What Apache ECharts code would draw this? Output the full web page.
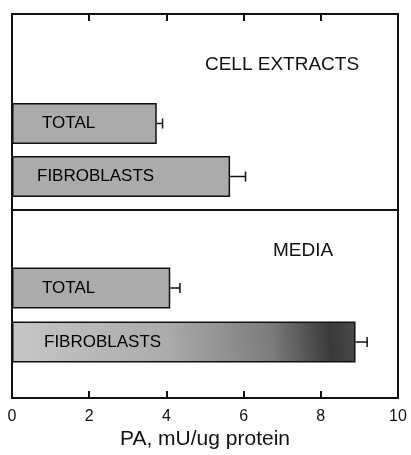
<!DOCTYPE html>
<html><head><meta charset="utf-8">
<script src="https://cdn.jsdelivr.net/npm/echarts@6/dist/echarts.min.js"></script>
<style>html,body{margin:0;padding:0;background:#fff}#c{width:411px;height:455px}</style>
</head><body><div id="c"></div>
<script>
// ---- data ----
const categories = ["TOTAL", "FIBROBLASTS"];
const cellExtractValues = [3.75, 5.65];
const cellExtractErrors = [0.15, 0.4];
const mediaValues = [4.1, 8.9];
const mediaErrors = [0.25, 0.3];
const xMin = 0, xMax = 10, xStep = 2;
const panelTitles = ["CELL EXTRACTS", "MEDIA"];
const xAxisTitle = "PA, mU/ug protein";

// ---- styles ----
const FONT = "Liberation Sans, Arial, sans-serif";
const L = 12, R = 13;
const barFill = '#ababab';
const labelOffsets = [[[25, 0], [20, 0]], [[25, 0], [27, 0]]];

const chart = echarts.init(document.getElementById('c'), null, {renderer: 'canvas'});

function hiddenX(gi) {
  return {type: 'value', gridIndex: gi, min: xMin, max: xMax, interval: xStep, show: false};
}
function catY(gi) {
  return {type: 'category', gridIndex: gi, data: categories, inverse: true, show: false};
}
function barSeries(axisIdx, vals, panel) {
  return {
    type: 'bar', xAxisIndex: axisIdx, yAxisIndex: axisIdx, barWidth: 41,
    data: vals.map((v, i) => ({
      value: v,
      itemStyle: (panel === 1 && i === 1) ? {
        color: new echarts.graphic.LinearGradient(0, 1, 1, 0, [
          {offset: 0, color: '#c6c6c6'}, {offset: 0.45, color: '#ababab'},
          {offset: 0.75, color: '#7c7c7c'}, {offset: 0.92, color: '#3a3a3a'},
          {offset: 1, color: '#4a4a4a'}])
      } : undefined,
      label: {offset: labelOffsets[panel][i]}
    })),
    itemStyle: {color: barFill, borderColor: '#111', borderWidth: 1.5},
    label: {show: true, position: 'insideLeft', formatter: p => p.name,
      color: '#000', fontFamily: FONT, fontSize: 17},
    silent: true
  };
}
function errSeries(axisIdx, vals, errs) {
  return {
    type: 'custom', xAxisIndex: axisIdx, yAxisIndex: axisIdx, silent: true,
    data: vals.map((v, i) => [v, i, errs[i]]),
    encode: {x: 0, y: 1},
    renderItem: (params, api) => {
      const v = api.value(0), i = api.value(1), e = api.value(2);
      const a = api.coord([v, i]);
      const b = api.coord([v + e, i]);
      const st = {stroke: '#111', lineWidth: 1.5};
      return {type: 'group', children: [
        {type: 'line', shape: {x1: a[0], y1: a[1], x2: b[0], y2: b[1]}, style: st},
        {type: 'line', shape: {x1: b[0], y1: b[1] - 5, x2: b[0], y2: b[1] + 5}, style: st}
      ]};
    }
  };
}

const axisLineStyle = {color: '#111', width: 2};
chart.setOption({
  animation: false,
  backgroundColor: '#fff',
  grid: [
    {left: L, right: R, top: 14, bottom: 55},
    {left: L, right: R, top: 97, height: 106},
    {left: L, right: R, top: 261, height: 108}
  ],
  xAxis: [
    {type: 'value', gridIndex: 0, min: xMin, max: xMax, interval: xStep, position: 'bottom',
      axisLine: {show: true, onZero: false, lineStyle: axisLineStyle},
      axisTick: {show: true, inside: true, length: 7, lineStyle: {color: '#111', width: 2}},
      splitLine: {show: false},
      axisLabel: {color: '#111', fontFamily: FONT, fontSize: 16, margin: 10,
        showMinLabel: true, showMaxLabel: true},
      name: xAxisTitle, nameLocation: 'middle', nameGap: 30,
      nameTextStyle: {color: '#111', fontFamily: FONT, fontSize: 21}},
    {type: 'value', gridIndex: 0, min: xMin, max: xMax, interval: xStep, position: 'top',
      axisLine: {show: true, onZero: false, lineStyle: axisLineStyle},
      axisTick: {show: true, inside: true, length: 7, lineStyle: {color: '#111', width: 2}},
      splitLine: {show: false}, axisLabel: {show: false}},
    hiddenX(1), hiddenX(2)
  ],
  yAxis: [
    {type: 'value', gridIndex: 0, min: 0, max: 1, position: 'left',
      axisLine: {show: true, onZero: false, lineStyle: axisLineStyle}, axisTick: {show: false},
      axisLabel: {show: false}, splitLine: {show: false}},
    {type: 'value', gridIndex: 0, min: 0, max: 1, position: 'right',
      axisLine: {show: true, onZero: false, lineStyle: axisLineStyle}, axisTick: {show: false},
      axisLabel: {show: false}, splitLine: {show: false}},
    catY(1), catY(2)
  ],
  series: [
    barSeries(2, cellExtractValues, 0),
    errSeries(2, cellExtractValues, cellExtractErrors),
    barSeries(3, mediaValues, 1),
    errSeries(3, mediaValues, mediaErrors)
  ],
  graphic: [
    {type: 'line', shape: {x1: L, y1: 210, x2: 411 - R, y2: 210},
      style: {stroke: '#111', lineWidth: 2}},
    {type: 'text', x: 282, y: 65, style: {text: panelTitles[0], fill: '#111',
      font: '19px ' + FONT, align: 'center', verticalAlign: 'middle'}},
    {type: 'text', x: 303, y: 251, style: {text: panelTitles[1], fill: '#111',
      font: '19px ' + FONT, align: 'center', verticalAlign: 'middle'}}
  ]
});
</script></body></html>
